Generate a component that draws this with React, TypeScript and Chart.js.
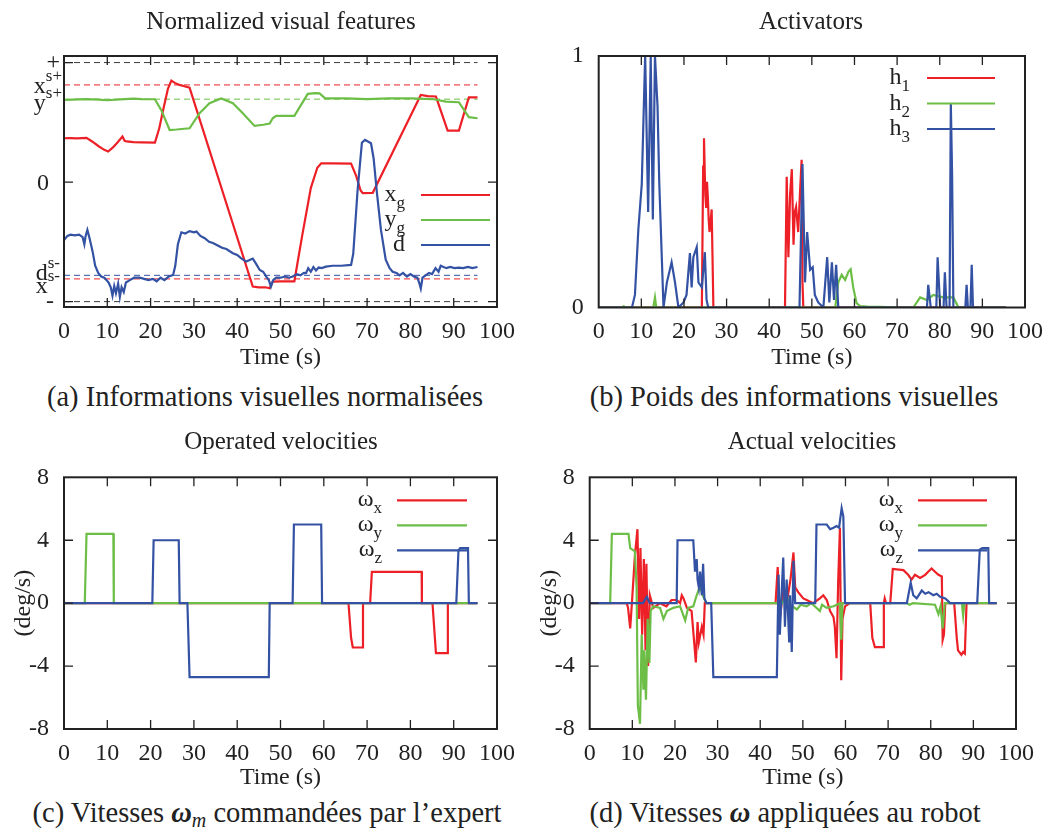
import { useEffect, useRef } from "react";
import { Chart, registerables } from "chart.js";

Chart.register(...registerables);

const SERIF = '"Liberation Serif"';
const INK = "#222";
const RED = "rgb(236,32,38)";
const GREEN = "rgb(108,190,70)";
const BLUE = "rgb(52,82,164)";
const DASH_GRAY = "#3c3c3c";

// ---------- shared axis ----------
const timeMin = 0;
const timeMax = 100;
const timeStep = 10;
const timeTitle = "Time (s)";

// ---------- (a) Normalized visual features ----------
const featXg: [number, number][] = [
  [0, 0.367], [1.5, 0.368], [3, 0.365], [5.2, 0.37], [6.5, 0.34], [8, 0.3], [9.3, 0.27], [10.2, 0.256],
  [11.3, 0.29], [12.3, 0.33], [13.5, 0.381], [14.0, 0.345], [14.5, 0.34], [16, 0.335], [18, 0.333],
  [21, 0.331], [22, 0.45], [23, 0.62], [24, 0.78], [24.8, 0.849], [25.6, 0.83], [26.7, 0.813], [28, 0.8],
  [29, 0.79], [43.6, -0.874], [45, -0.88], [46.5, -0.88], [47.5, -0.888], [48.2, -0.832], [50, -0.83],
  [53.2, -0.83], [55, -0.45], [57, -0.05], [58.5, 0.12], [59.4, 0.157], [62, 0.157], [66.3, 0.155],
  [67.5, 0.05], [68.5, -0.07], [69, -0.093], [71.3, -0.09], [82.4, 0.729], [84, 0.72], [85.9, 0.716],
  [88.6, 0.431], [91.2, 0.431], [93.5, 0.709], [95.5, 0.709],
];
const featYg: [number, number][] = [
  [0, 0.687], [2, 0.69], [5, 0.695], [8, 0.69], [10, 0.685], [13, 0.692], [16, 0.698], [18, 0.694],
  [21, 0.693], [22.5, 0.6], [24.4, 0.436], [26, 0.44], [29, 0.45], [31.3, 0.576], [33.6, 0.66],
  [36.3, 0.7], [39, 0.66], [41.3, 0.576], [44, 0.47], [46, 0.48], [47.5, 0.49], [48.2, 0.534],
  [49, 0.554], [53.2, 0.554], [56.3, 0.738], [58, 0.745], [59, 0.743], [60.3, 0.7], [65, 0.7],
  [70, 0.695], [75, 0.7], [80, 0.7], [85.1, 0.695], [88.2, 0.673], [91.2, 0.668], [93.5, 0.543],
  [95.5, 0.534],
];
const featD: [number, number][] = [
  [0, -0.484], [0.8, -0.45], [1.5, -0.44], [2.5, -0.445], [3.5, -0.44], [4.3, -0.46], [4.7, -0.52],
  [5.0, -0.45], [5.4, -0.4], [5.9, -0.47], [6.6, -0.58], [7.2, -0.7], [7.9, -0.76], [8.6, -0.79],
  [9.3, -0.8], [9.8, -0.82], [10.3, -0.84], [10.8, -0.88], [11.2, -0.95], [11.6, -0.87], [12.0, -0.93],
  [12.5, -0.85], [12.9, -0.96], [13.3, -0.88], [13.8, -0.92], [14.3, -0.84], [15.2, -0.82], [16.2, -0.8],
  [17.5, -0.8], [18.5, -0.81], [19.5, -0.82], [20.5, -0.81], [21.4, -0.83], [22.3, -0.8], [23.2, -0.82],
  [24.2, -0.79], [25.2, -0.777], [25.7, -0.7], [26.3, -0.52], [27.1, -0.42], [28.0, -0.43], [29.0, -0.41],
  [30.0, -0.42], [30.6, -0.414], [31.5, -0.45], [32.5, -0.47], [33.5, -0.5], [34.4, -0.51], [35.5, -0.53],
  [36.5, -0.55], [37.5, -0.56], [39, -0.595], [40, -0.61], [41, -0.64], [42.1, -0.665], [43.0, -0.65],
  [43.6, -0.64], [44.3, -0.68], [45.2, -0.735], [46.0, -0.75], [46.7, -0.79], [47.3, -0.82], [47.8, -0.874],
  [48.3, -0.82], [49.0, -0.8], [50.0, -0.8], [51.0, -0.79], [52.0, -0.8], [52.8, -0.79], [53.8, -0.77],
  [54.6, -0.78], [55.4, -0.76], [55.9, -0.762], [56.4, -0.72], [57.0, -0.75], [57.6, -0.71], [58.2, -0.74],
  [58.8, -0.715], [59.5, -0.72], [60.5, -0.707], [62, -0.7], [64, -0.7], [66.3, -0.693], [66.8, -0.6],
  [67.8, -0.07], [68.8, 0.33], [69.5, 0.353], [70.2, 0.34], [70.9, 0.325], [71.5, 0.2], [72.3, -0.1],
  [73.2, -0.4], [74.3, -0.65], [75.2, -0.72], [75.9, -0.75], [76.8, -0.76], [77.5, -0.78], [78.3, -0.76],
  [79.2, -0.79], [80.0, -0.77], [80.8, -0.79], [81.6, -0.8], [82.1, -0.85], [82.4, -0.89], [82.8, -0.8],
  [83.5, -0.78], [84.3, -0.76], [85.0, -0.77], [85.8, -0.72], [86.5, -0.75], [87.0, -0.7], [87.4, -0.707],
  [88.3, -0.72], [89.2, -0.71], [90.2, -0.72], [91.2, -0.715], [92.2, -0.72], [93.3, -0.71], [94.3, -0.72],
  [95.5, -0.71],
];
const featAxisValues = [1, 0.813, 0.694, 0, -0.78, -0.81, -1];
const featAxisBase = ["+", "x", "y", "0", "d", "x", "-"];
const featAxisSup = ["", "s+", "s+", "", "s-", "s-", ""];
const featTickMarks = [-1, 0, 1];
const featRefEnd = 95.5;
const featLegendBase = ["x", "y", "d"];
const featLegendSub = ["g", "g", ""];

// ---------- (b) Activators ----------
const actH1: [number, number][] = [
  [0, 0], [24.2, 0], [24.5, 0.56], [24.7, 0.673], [25.0, 0.45], [25.2, 0.4], [25.4, 0.5], [25.6, 0.44],
  [25.8, 0.35], [26, 0.3], [26.3, 0.35], [26.5, 0.39], [26.7, 0.2], [26.9, 0], [43.7, 0], [44.1, 0.52],
  [44.5, 0.2], [44.9, 0.45], [45.3, 0.55], [45.7, 0.25], [46.0, 0.38], [46.3, 0.4], [46.8, 0.3],
  [47.2, 0.45], [47.6, 0.587], [47.8, 0.1], [48, 0], [95.5, 0],
];
const actH2: [number, number][] = [
  [0, 0], [5.5, 0], [5.8, 0.005], [6.5, 0], [12.8, 0], [13.2, 0.04], [13.5, 0], [55.5, 0], [55.8, 0.044],
  [56.2, 0.1], [57, 0.13], [57.8, 0.11], [58.6, 0.143], [59.1, 0.152], [59.7, 0.08], [60.5, 0.017],
  [61.3, 0.006], [63, 0.004], [66, 0.003], [70, 0], [73.8, 0], [75.4, 0.04], [77, 0.03], [78.5, 0.05],
  [80.8, 0.04], [83.2, 0.04], [84.4, 0], [95.5, 0],
];
const actH3: [number, number][] = [
  [0, 0], [7.8, 0], [8.5, 0.05], [9.3, 0.31], [10.1, 0.49], [10.9, 1.0], [11.6, 0.38], [12.2, 1.0],
  [12.7, 0.35], [13.2, 1.0], [13.8, 0.8], [14.2, 0.5], [14.8, 0.2], [15.2, 0], [16, 0.1], [17.1, 0.18],
  [17.9, 0.1], [18.7, 0], [19.9, 0.02], [20.6, 0.05], [21.4, 0.216], [21.8, 0.08], [22.2, 0.2],
  [23, 0.24], [23.4, 0.1], [24.2, 0.08], [24.9, 0.22], [25.3, 0.03], [25.7, 0], [47.1, 0], [47.8, 0.57],
  [48.4, 0.1], [48.9, 0.3], [49.6, 0.15], [50.2, 0.16], [50.7, 0.05], [51.5, 0.02], [52.7, 0],
  [53.6, 0.2], [54.1, 0.02], [54.7, 0.18], [55.2, 0.03], [55.7, 0.17], [56.2, 0], [77.0, 0], [77.3, 0.09],
  [77.9, 0], [79.2, 0], [79.5, 0.2], [80.1, 0], [80.9, 0], [81.2, 0.14], [81.6, 0], [82.3, 0],
  [82.6, 0.81], [82.9, 0.53], [83.2, 0], [86.0, 0], [86.3, 0.09], [86.6, 0], [87.2, 0], [87.5, 0.17],
  [87.8, 0], [95.5, 0],
];
const actLegendBase = ["h", "h", "h"];
const actLegendSub = ["1", "2", "3"];

// ---------- (c) Operated velocities ----------
const opWx: [number, number][] = [
  [0, 0], [65.7, 0], [66.3, -2.2], [66.7, -2.82], [69, -2.82], [69.05, 0], [70.7, 0], [71.1, 1.99],
  [82.6, 1.99], [82.65, 0], [85.1, 0], [85.9, -3.18], [88.6, -3.18], [88.65, 0], [95.5, 0],
];
const opWy: [number, number][] = [
  [0, 0], [4.8, 0], [5.2, 4.4], [11.4, 4.4], [11.5, 0], [95.5, 0],
];
const opWz: [number, number][] = [
  [0, 0], [20.4, 0], [20.7, 4.0], [26.5, 4.0], [26.7, 0], [28.5, 0], [29, -4.7], [47.3, -4.7], [47.5, 0],
  [52.8, 0], [53.1, 5.0], [59.4, 5.0], [59.6, 0], [90.6, 0], [91.1, 3.35], [91.5, 3.5], [93.3, 3.5],
  [93.5, 0], [95.5, 0],
];

// ---------- (d) Actual velocities ----------
const actWx: [number, number][] = [
  [0, 0], [8.7, 0], [9.0, -0.3], [9.5, -1.6], [9.9, 0], [10.6, 3.0], [11.2, 4.7], [11.6, -1.0], [11.9, 3.5],
  [12.3, -2.0], [12.7, 2.8], [13.1, -3.0], [13.3, 2.5], [13.7, -4.0], [14.1, 0.5], [14.9, -0.3], [16.5, 0],
  [18, -0.2], [19.2, 0.2], [20.4, 0.2], [21.2, 0], [21.6, 0.5], [22, 0.3], [22.8, -0.3], [23.9, -0.5],
  [24.9, -3.77], [25.3, -1.2], [25.6, -2.5], [26.3, -1.5], [26.7, -2.0], [27, 0], [43.6, 0], [44.1, 2.3],
  [44.6, -1.0], [45.4, 0.8], [46.2, 0], [47.1, 1.5], [47.8, 3.22], [48.2, 1.0], [48.9, 0.7], [50.1, 0.3],
  [50.9, 0.2], [52.4, 0], [54, 0.3], [54.8, 0.5], [55.6, 0.2], [56.4, -0.5], [57.2, -0.9], [57.5, -1.5],
  [57.9, -3.5], [58.3, 1.5], [58.7, 4.8], [59, -4.9], [59.3, -1.0], [59.9, -0.2], [61, 0], [65.8, 0],
  [66.3, -2.2], [66.9, -2.8], [68.9, -2.8], [69.0, 0], [69.2, 0.3], [69.5, 0], [70.5, 0], [71.1, 2.18],
  [73.6, 2.1], [74.7, 1.8], [75.5, 1.5], [76.3, 1.8], [77.5, 1.6], [78.7, 1.8], [79.4, 2.0], [80.2, 2.2],
  [81, 2.0], [81.8, 1.8], [82.6, 1.7], [82.8, -2.33], [83.1, -2.0], [83.4, 0], [85.5, 0], [86.1, -2.2],
  [86.4, -3.0], [87.2, -3.28], [87.6, -3.1], [88.0, -3.2], [88.4, 0], [95.5, 0],
];
const actWy: [number, number][] = [
  [0, 0], [4.8, 0], [5.2, 4.4], [9.1, 4.4], [9.5, 3.5], [10.6, 3.3], [11, 1.0], [11.3, -6.5], [11.8, -7.67],
  [12.2, -2], [12.6, -5.5], [12.8, -3], [13.2, -6.14], [13.6, -1], [14, -3.8], [14.3, -0.5], [14.9, -0.2],
  [16.5, -0.3], [17.3, -1.0], [18.1, -0.5], [19.6, -0.3], [21.2, -0.2], [22.4, -1.1], [23.1, -0.3],
  [24.3, -0.2], [25.1, 0.5], [25.9, 1.1], [26.5, 0.5], [27.4, 0], [43.9, 0], [44.7, -0.2], [46.2, 0.5],
  [47, -0.1], [48.6, -0.4], [49.5, -0.1], [50.9, -0.2], [52, 0], [54, -0.5], [54.5, -0.1], [55.6, -0.3],
  [57.2, -0.2], [58.7, 0], [59, -2.33], [59.3, 0], [74.4, 0], [75, -0.1], [75.8, 0], [81, -0.1],
  [81.8, -0.7], [82.3, -0.2], [82.8, -1.6], [83.3, 0], [87.3, 0], [87.6, -0.8], [87.9, 0], [95.5, 0],
];
const actWz: [number, number][] = [
  [0, 0], [12.5, 0], [13.4, 0.4], [14.1, 0], [20.4, 0], [20.6, 4.0], [24.3, 4.0], [24.7, 2.0], [25.1, 2.8],
  [25.3, 1.5], [25.6, 1.0], [25.9, 2.0], [26.3, 0.5], [26.6, 2.5], [26.9, 0.3], [27.4, 0], [28.5, 0],
  [29, -4.7], [43.9, -4.7], [44.3, 1.8], [44.6, -2.0], [45.0, 0.5], [45.4, 2.9], [45.8, -1.5], [46.2, 1.5],
  [46.8, -2.5], [47.0, 0.5], [47.4, -3.1], [47.8, 2.7], [48.2, 0], [52.9, 0], [53.2, 5.0], [55.6, 5.0],
  [56.4, 4.7], [57.2, 4.8], [57.9, 4.9], [58.5, 4.8], [59.1, 6.04], [59.5, 5.5], [59.9, 0], [74.4, 0],
  [75.3, 1.3], [75.9, 0.5], [76.7, 0.3], [77.9, 0.8], [78.7, 0.6], [79.5, 0.7], [80.6, 0.5], [81.4, 0.6],
  [82.2, 0.4], [83.4, 0.3], [84.2, 0.1], [84.5, 0], [90.9, 0], [91.5, 3.4], [92.1, 3.5], [93.5, 3.5],
  [93.7, 0], [95.5, 0],
];
const velMin = -8;
const velMax = 8;
const velStep = 4;
const velTitle = "(deg/s)";
const velLegendBase = ["ω", "ω", "ω"];
const velLegendSub = ["x", "y", "z"];

// ---------- helpers ----------
const toPts = (a: [number, number][]) => a.map(([x, y]) => ({ x, y }));

function drawScript(ctx: CanvasRenderingContext2D, base: string, script: string, right: number, baseline: number, shift: number) {
  ctx.fillStyle = INK;
  ctx.textBaseline = "alphabetic";
  ctx.textAlign = "left";
  ctx.font = `24px ${SERIF}`;
  const wb = ctx.measureText(base).width;
  ctx.font = `17px ${SERIF}`;
  const ws = script ? ctx.measureText(script).width : 0;
  const x0 = right - wb - ws;
  ctx.font = `24px ${SERIF}`;
  ctx.fillText(base, x0, baseline);
  if (script) {
    ctx.font = `17px ${SERIF}`;
    ctx.fillText(script, x0 + wb, baseline + shift);
  }
}

const gnuplotFrame = {
  id: "gnuplotFrame",
  afterDatasetsDraw(chart: any, _args: any, opts: any) {
    const ctx: CanvasRenderingContext2D = chart.ctx;
    const a = chart.chartArea;
    const xs = chart.scales.x;
    const ys = chart.scales.y;
    const L = 9;
    ctx.save();
    ctx.strokeStyle = INK;
    ctx.lineWidth = 1.3;
    ctx.beginPath();
    for (const t of xs.ticks) {
      const p = xs.getPixelForValue(t.value);
      if (p < a.left + 2 || p > a.right - 2) continue;
      ctx.moveTo(p, a.bottom);
      ctx.lineTo(p, a.bottom - L);
      ctx.moveTo(p, a.top);
      ctx.lineTo(p, a.top + L);
    }
    for (const t of ys.ticks) {
      const p = ys.getPixelForValue(t.value);
      if (p < a.top + 2 || p > a.bottom - 2) continue;
      ctx.moveTo(a.left, p);
      ctx.lineTo(a.left + L, p);
      ctx.moveTo(a.right, p);
      ctx.lineTo(a.right - L, p);
    }
    ctx.stroke();
    ctx.lineWidth = 2;
    ctx.strokeRect(a.left, a.top, a.right - a.left, a.bottom - a.top);

    const lg = opts.legend;
    if (lg) {
      lg.base.forEach((b: string, i: number) => {
        const y = a.top + lg.top + i * lg.gap;
        ctx.strokeStyle = lg.colors[i];
        ctx.lineWidth = 2.2;
        ctx.beginPath();
        ctx.moveTo(a.right - lg.lineFrom, y);
        ctx.lineTo(a.right - lg.lineTo, y);
        ctx.stroke();
        drawScript(ctx, b, lg.sub[i], a.right - lg.textRight, y + 6, 7);
      });
    }
    const yl = opts.yLabels;
    if (yl) {
      yl.values.forEach((v: number, i: number) => {
        const y = ys.getPixelForValue(v) + yl.baselineOffset[i];
        drawScript(ctx, yl.base[i], yl.sup[i], a.left - yl.gap[i], y, -12);
      });
    }
    ctx.restore();
  },
};

type Area = { l: number; t: number; r: number; b: number };

function lineDs(label: string, pts: [number, number][], color: string, order: number) {
  return {
    label,
    data: toPts(pts),
    borderColor: color,
    backgroundColor: color,
    borderWidth: 2.2,
    pointRadius: 0,
    tension: 0,
    fill: false,
    order,
  };
}

function buildConfig(p: {
  w: number;
  h: number;
  area: Area;
  datasets: any[];
  y: any;
  legend: any;
  yLabels?: any;
}) {
  const font = { family: SERIF, size: 24 };
  return {
    type: "line",
    data: { datasets: p.datasets },
    plugins: [gnuplotFrame],
    options: {
      responsive: false,
      animation: false,
      devicePixelRatio: 1,
      layout: { padding: { left: 0, top: p.area.t, right: p.w - p.area.r, bottom: 0 } },
      plugins: {
        legend: { display: false },
        tooltip: { enabled: false },
        gnuplotFrame: { legend: p.legend, yLabels: p.yLabels },
      },
      scales: {
        x: {
          type: "linear",
          min: timeMin,
          max: timeMax,
          ticks: { stepSize: timeStep, font, color: INK, padding: 10, maxRotation: 0, autoSkip: false },
          grid: { display: false, drawTicks: false },
          border: { display: false },
          title: { display: true, text: timeTitle, font, color: INK, padding: 0 },
          afterFit: (s: any) => {
            s.height = p.h - p.area.b;
          },
        },
        y: {
          type: "linear",
          ...p.y,
          grid: { display: false, drawTicks: false },
          border: { display: false },
          afterFit: (s: any) => {
            s.width = p.area.l;
          },
        },
      },
    },
  };
}

function Panel({ left, top, w, h, config }: { left: number; top: number; w: number; h: number; config: any }) {
  const ref = useRef<HTMLCanvasElement>(null);
  useEffect(() => {
    const chart = new Chart(ref.current as HTMLCanvasElement, config);
    return () => chart.destroy();
  }, []);
  return (
    <canvas
      ref={ref}
      width={w}
      height={h}
      style={{ position: "absolute", left, top, width: w, height: h }}
    />
  );
}

const W = 529;
const H = 372;
const axisFont = { family: SERIF, size: 24 };

const featConfig = buildConfig({
  w: W,
  h: H,
  area: { l: 64, t: 56, r: 497, b: 307 },
  datasets: [
    lineDs("d", featD, BLUE, 1),
    lineDs("yg", featYg, GREEN, 2),
    lineDs("xg", featXg, RED, 3),
    ...featAxisValues
      .map((v, i) => ({ v, i }))
      .filter(({ v }) => v !== 0)
      .map(({ v, i }) => ({
        label: "ref" + i,
        data: [{ x: 0, y: v }, { x: featRefEnd, y: v }],
        borderColor: [DASH_GRAY, RED, GREEN, "", BLUE, RED, DASH_GRAY][i],
        borderWidth: 1,
        borderDash: [6, 4],
        pointRadius: 0,
        order: 10,
      })),
  ],
  y: {
    min: -1.045,
    max: 1.055,
    ticks: { display: false },
    afterBuildTicks: (s: any) => {
      s.ticks = featTickMarks.map((v) => ({ value: v }));
    },
  },
  legend: {
    base: featLegendBase,
    sub: featLegendSub,
    colors: [RED, GREEN, BLUE],
    top: 139,
    gap: 25,
    lineFrom: 76,
    lineTo: 7,
    textRight: 92,
  },
  yLabels: {
    values: featAxisValues,
    base: featAxisBase,
    sup: featAxisSup,
    baselineOffset: [6, 8, 11, 8, 5, 14, 6],
    gap: [4, 2, 2, 15, 4, 4, 10],
  },
});

const actConfig = buildConfig({
  w: W,
  h: H,
  area: { l: 69.7, t: 56, r: 496, b: 307.5 },
  datasets: [lineDs("h3", actH3, BLUE, 1), lineDs("h2", actH2, GREEN, 2), lineDs("h1", actH1, RED, 3)],
  y: { min: 0, max: 1, ticks: { stepSize: 1, font: axisFont, color: INK, padding: 15 } },
  legend: {
    base: actLegendBase,
    sub: actLegendSub,
    colors: [RED, GREEN, BLUE],
    top: 22,
    gap: 25.5,
    lineFrom: 98,
    lineTo: 30,
    textRight: 115,
  },
});

function velY(titlePad: number) {
  return {
    min: velMin,
    max: velMax,
    ticks: { stepSize: velStep, font: axisFont, color: INK, padding: 15 },
    title: { display: true, text: velTitle, font: axisFont, color: INK, padding: { top: titlePad, bottom: 0 } },
  };
}

const opConfig = buildConfig({
  w: W,
  h: H,
  area: { l: 64, t: 57.3, r: 497, b: 309 },
  datasets: [lineDs("wz", opWz, BLUE, 1), lineDs("wy", opWy, GREEN, 2), lineDs("wx", opWx, RED, 3)],
  y: velY(9),
  legend: {
    base: velLegendBase,
    sub: velLegendSub,
    colors: [RED, GREEN, BLUE],
    top: 23,
    gap: 25,
    lineFrom: 100,
    lineTo: 30,
    textRight: 115,
  },
});

const realConfig = buildConfig({
  w: W,
  h: H,
  area: { l: 60.7, t: 57.3, r: 487, b: 309 },
  datasets: [lineDs("wz", actWz, BLUE, 1), lineDs("wy", actWy, GREEN, 2), lineDs("wx", actWx, RED, 3)],
  y: velY(6.6),
  legend: {
    base: velLegendBase,
    sub: velLegendSub,
    colors: [RED, GREEN, BLUE],
    top: 23,
    gap: 25,
    lineFrom: 98,
    lineTo: 29,
    textRight: 113,
  },
});

const textBase: any = {
  position: "absolute",
  fontFamily: SERIF,
  color: INK,
  whiteSpace: "nowrap",
  transform: "translateX(-50%)",
};

function Title({ x, y, children }: { x: number; y: number; children: any }) {
  return <div style={{ ...textBase, left: x, top: y, fontSize: 25, lineHeight: "25px" }}>{children}</div>;
}

function Caption({ x, y, children }: { x: number; y: number; children: any }) {
  return <div style={{ ...textBase, left: x, top: y, fontSize: 28.5, lineHeight: "28px" }}>{children}</div>;
}

export default function App() {
  return (
    <div style={{ position: "absolute", left: 0, top: 0, width: 1058, height: 837, background: "#fff", overflow: "hidden" }}>
      <Panel left={0} top={0} w={W} h={H} config={featConfig} />
      <Panel left={529} top={0} w={W} h={H} config={actConfig} />
      <Panel left={0} top={420} w={W} h={H} config={opConfig} />
      <Panel left={529} top={420} w={W} h={H} config={realConfig} />

      <Title x={281} y={8}>Normalized visual features</Title>
      <Title x={811} y={8}>Activators</Title>
      <Title x={281} y={428}>Operated velocities</Title>
      <Title x={812} y={428}>Actual velocities</Title>

      <Caption x={265} y={383}>(a) Informations visuelles normalisées</Caption>
      <Caption x={794} y={383}>(b) Poids des informations visuelles</Caption>
      <Caption x={267} y={799}>
        (c) Vitesses{" "}
        <span style={{ fontWeight: "bold", fontStyle: "italic" }}>ω</span>
        <span style={{ fontStyle: "italic", fontSize: 20, position: "relative", top: 5 }}>m</span> commandées par l’expert
      </Caption>
      <Caption x={785} y={799}>
        (d) Vitesses <span style={{ fontWeight: "bold", fontStyle: "italic" }}>ω</span> appliquées au robot
      </Caption>
    </div>
  );
}
